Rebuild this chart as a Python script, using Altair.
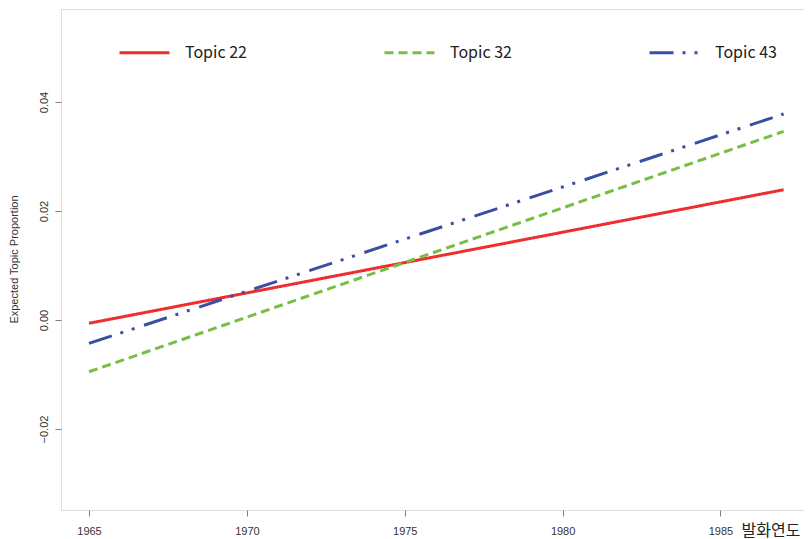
import altair as alt
import pandas as pd

# Data
years = [1965, 1987]
topic22 = [-0.0006, 0.0239]
topic32 = [-0.0095, 0.0346]
topic43 = [-0.0043, 0.0378]
topics = ["Topic 22", "Topic 32", "Topic 43"]
colors = ["#EE2E2E", "#78BE45", "#3A4FA3"]
dashes = [[1, 0], [9, 5], [24, 9, 3, 9, 3, 10]]
x_ticks = [1965, 1970, 1975, 1980, 1985]
y_ticks = [-0.02, 0.0, 0.02, 0.04]

rows = []
for name, vals in zip(topics, [topic22, topic32, topic43]):
    for yr, v in zip(years, vals):
        rows.append({"year": yr, "value": v, "topic": name})
df = pd.DataFrame(rows)

chart = alt.Chart(df).mark_line(strokeWidth=3, strokeCap="butt").encode(
    x=alt.X(
        "year:Q",
        scale=alt.Scale(domain=[1964.113, 1987.645], nice=False, zero=False),
        axis=alt.Axis(
            values=x_ticks, format="d", title="발화연도",
            titleX=739, titleY=20, titleAlign="right", titleBaseline="middle",
            titleFont="Noto Sans CJK KR", titleFontSize=16, titleFontWeight="normal",
            titleColor="#222222",
            labelFont="Liberation Sans", labelFontSize=11, labelColor="#333333",
            labelPadding=9, tickSize=6, tickColor="#7f7f7f", domain=False, grid=False,
        ),
    ),
    y=alt.Y(
        "value:Q",
        scale=alt.Scale(domain=[-0.03486, 0.05706], nice=False, zero=False),
        axis=alt.Axis(
            values=y_ticks, format=".2f", title="Expected Topic Proportion",
            titleX=-47, titleY=250, titleAngle=270, titleAlign="center",
            titleBaseline="middle", titleFont="Liberation Sans", titleFontSize=11,
            titleFontWeight="normal", titleColor="#333333",
            labelAngle=270, labelFont="Liberation Sans", labelFontSize=11,
            labelColor="#333333", labelPadding=6, tickSize=6, tickColor="#7f7f7f",
            domain=False, grid=False,
        ),
    ),
    color=alt.Color(
        "topic:N",
        scale=alt.Scale(domain=topics, range=colors),
        legend=alt.Legend(
            title=None, orient="none", legendX=57, legendY=17,
            direction="horizontal", symbolType="stroke", symbolSize=2500,
            symbolStrokeWidth=3, labelFont="Noto Sans CJK KR", labelFontSize=16,
            labelColor="#222222", labelOffset=14, columnPadding=131,
        ),
    ),
    strokeDash=alt.StrokeDash(
        "topic:N",
        scale=alt.Scale(domain=topics, range=dashes),
        legend=None,
    ),
).properties(
    width=743,
    height=501,
    autosize=alt.AutoSizeParams(type="none"),
    padding={"left": 53, "top": 1, "right": 0, "bottom": 29},
).configure_view(
    stroke="#777777", strokeWidth=1
).configure(background="white")

chart.save("out.html", embed_options={"renderer": "svg", "actions": False})
